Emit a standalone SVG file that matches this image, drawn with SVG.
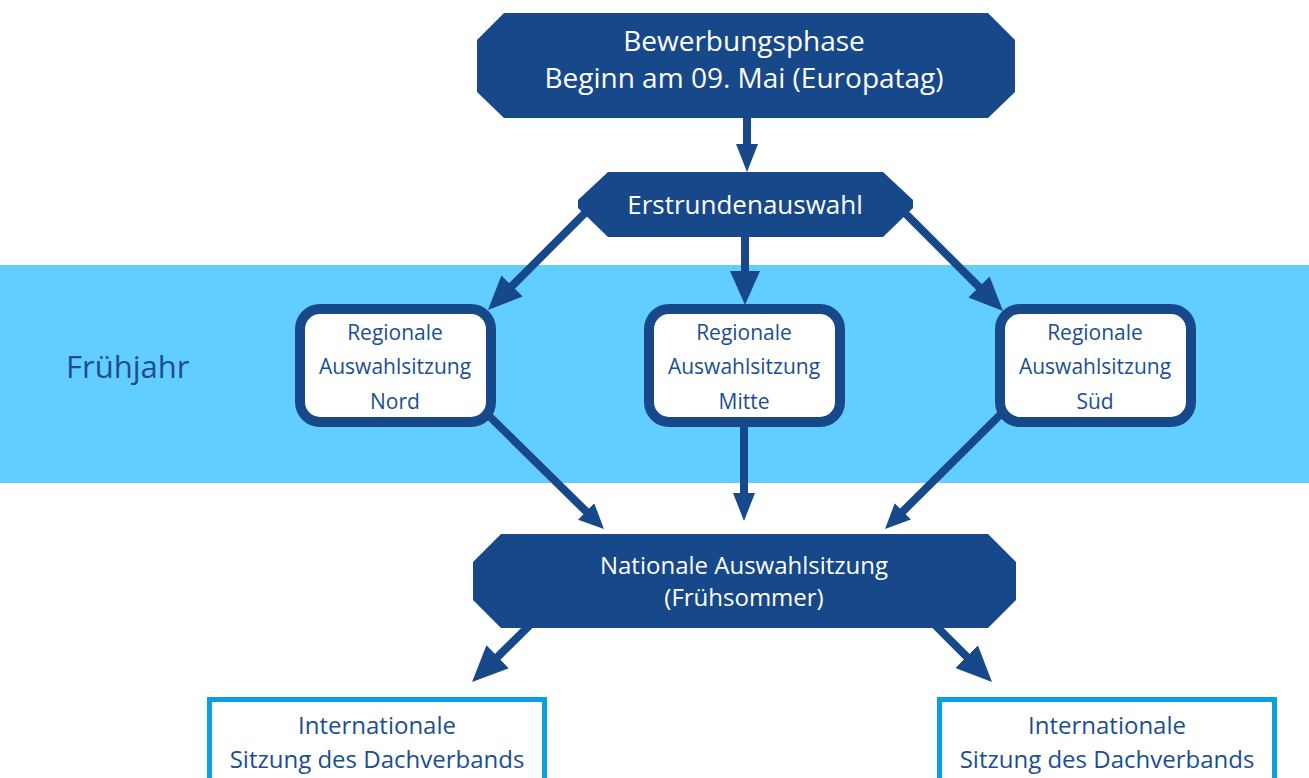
<svg xmlns="http://www.w3.org/2000/svg" width="1309" height="778" viewBox="0 0 1309 778">
  <style>
    .band { fill: #62CDFF; }
    .dark { fill: #17488A; }
    .t-light { font-family: "Open Sans", "Liberation Sans", sans-serif; fill: #FFFFFF; text-anchor: middle; }
    .t-dark { font-family: "Open Sans", "Liberation Sans", sans-serif; fill: #1C4E92; text-anchor: middle; }
    .regional { fill: #FFFFFF; stroke: #17488A; stroke-width: 10; }
    .intl { fill: #FFFFFF; stroke: #0A9FE0; stroke-width: 5; }
    .conn { stroke: #17488A; stroke-width: 8; fill: none; stroke-linecap: butt; }
    .head { fill: #17488A; }
  </style>
  <defs>
    <marker id="hSmall" viewBox="0 0 10 10" refX="3" refY="5" markerUnits="userSpaceOnUse" markerWidth="28" markerHeight="22" preserveAspectRatio="none" orient="auto">
      <path class="head" d="M0,0 L10,5 L0,10 z"/>
    </marker>
    <marker id="hDiag" viewBox="0 0 10 10" refX="3" refY="5" markerUnits="userSpaceOnUse" markerWidth="25" markerHeight="23" preserveAspectRatio="none" orient="auto">
      <path class="head" d="M0,0 L10,5 L0,10 z"/>
    </marker>
    <marker id="hMed" viewBox="0 0 10 10" refX="3" refY="5" markerUnits="userSpaceOnUse" markerWidth="34" markerHeight="30" preserveAspectRatio="none" orient="auto">
      <path class="head" d="M0,0 L10,5 L0,10 z"/>
    </marker>
    <marker id="hLarge" viewBox="0 0 10 10" refX="3" refY="5" markerUnits="userSpaceOnUse" markerWidth="36" markerHeight="32" preserveAspectRatio="none" orient="auto">
      <path class="head" d="M0,0 L10,5 L0,10 z"/>
    </marker>
  </defs>

  <rect width="1309" height="778" fill="#FFFFFF"/>

  <!-- spring season band -->
  <g id="season-band">
    <rect class="band" x="0" y="265" width="1309" height="218"/>
    <text x="66" y="378" font-family="'Open Sans', 'Liberation Sans', sans-serif" font-size="31" fill="#1B4D8F">Frühjahr</text>
  </g>

  <!-- connectors -->
  <g id="connectors">
    <line class="conn" x1="747" y1="118" x2="747" y2="152.4" marker-end="url(#hSmall)"/>
    <line class="conn" x1="745" y1="237" x2="745" y2="281.2" marker-end="url(#hMed)"/>
    <line class="conn" x1="588" y1="210" x2="504.8" y2="293.2" stroke-linecap="round" marker-end="url(#hMed)"/>
    <line class="conn" x1="903" y1="211" x2="986.2" y2="294.2" stroke-linecap="round" marker-end="url(#hMed)"/>
    <line class="conn" x1="478" y1="405" x2="591.5" y2="516.7" marker-end="url(#hDiag)"/>
    <line class="conn" x1="744" y1="420" x2="744" y2="501.4" marker-end="url(#hSmall)"/>
    <line class="conn" x1="1012" y1="403" x2="897.5" y2="516.7" marker-end="url(#hDiag)"/>
    <line class="conn" x1="535" y1="620" x2="490" y2="664.3" marker-end="url(#hLarge)"/>
    <line class="conn" x1="930" y1="620" x2="974.2" y2="664.2" marker-end="url(#hLarge)"/>
  </g>

  <g id="bewerbungsphase">
    <polygon class="dark" points="504,13 988,13 1015,40 1015,92 988,118 504,118 477,92 477,40"/>
    <text class="t-light" x="744" y="51" font-size="28">Bewerbungsphase</text>
    <text class="t-light" x="744" y="88" font-size="28">Beginn am 09. Mai (Europatag)</text>
  </g>

  <g id="erstrundenauswahl">
    <polygon class="dark" points="608,172 883,172 913,200 913,208 883,237 608,237 578,208 578,200"/>
    <text class="t-light" x="745" y="214" font-size="26">Erstrundenauswahl</text>
  </g>

  <g id="regional-nord">
    <rect class="regional" x="300" y="309" width="191" height="113" rx="20"/>
    <text class="t-dark" x="395" y="340" font-size="21">Regionale</text>
    <text class="t-dark" x="395" y="374" font-size="21">Auswahlsitzung</text>
    <text class="t-dark" x="395" y="409" font-size="21">Nord</text>
  </g>

  <g id="regional-mitte">
    <rect class="regional" x="649" y="309" width="191" height="113" rx="20"/>
    <text class="t-dark" x="744" y="340" font-size="21">Regionale</text>
    <text class="t-dark" x="744" y="374" font-size="21">Auswahlsitzung</text>
    <text class="t-dark" x="744" y="409" font-size="21">Mitte</text>
  </g>

  <g id="regional-sued">
    <rect class="regional" x="1000" y="309" width="191" height="113" rx="20"/>
    <text class="t-dark" x="1095" y="340" font-size="21">Regionale</text>
    <text class="t-dark" x="1095" y="374" font-size="21">Auswahlsitzung</text>
    <text class="t-dark" x="1095" y="409" font-size="21">Süd</text>
  </g>

  <g id="nationale-auswahlsitzung">
    <polygon class="dark" points="501,534 988,534 1016,562 1016,600 988,628 501,628 473,600 473,562"/>
    <text class="t-light" x="744" y="574" font-size="24">Nationale Auswahlsitzung</text>
    <text class="t-light" x="744" y="606" font-size="24">(Frühsommer)</text>
  </g>

  <g id="international-links">
    <rect class="intl" x="209.5" y="699.5" width="335" height="100"/>
    <text class="t-dark" x="377" y="734" font-size="24">Internationale</text>
    <text class="t-dark" x="377" y="768" font-size="24">Sitzung des Dachverbands</text>
  </g>

  <g id="international-rechts">
    <rect class="intl" x="939.5" y="699.5" width="335" height="100"/>
    <text class="t-dark" x="1107" y="734" font-size="24">Internationale</text>
    <text class="t-dark" x="1107" y="768" font-size="24">Sitzung des Dachverbands</text>
  </g>
</svg>
